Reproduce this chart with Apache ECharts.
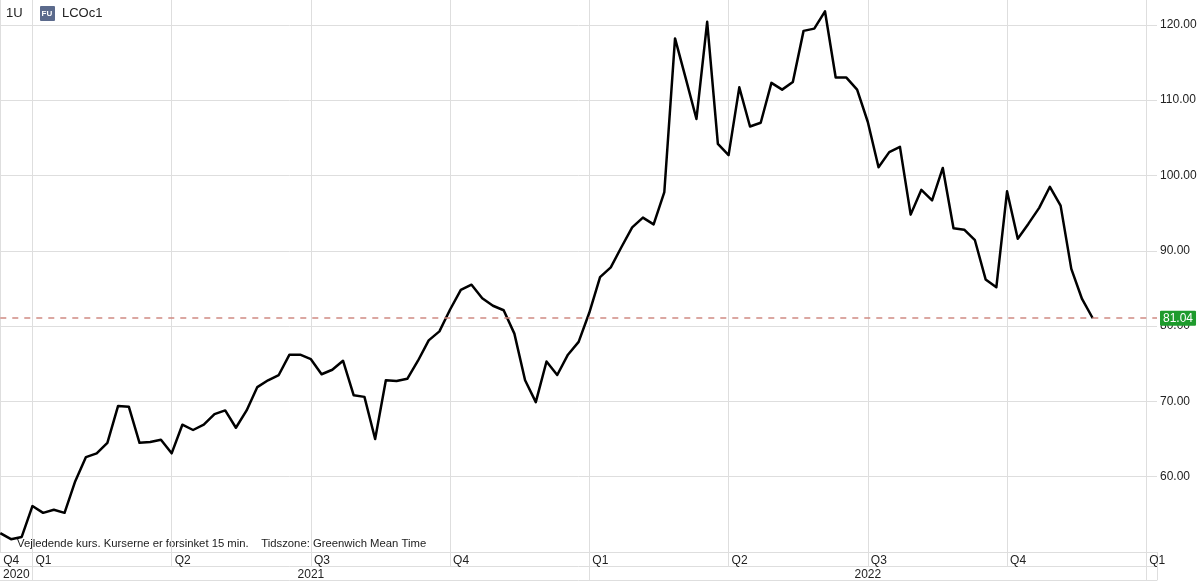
<!DOCTYPE html>
<html>
<head>
<meta charset="utf-8">
<style>
  html, body { margin: 0; padding: 0; background: #fff; }
  #chart { width: 1200px; height: 581px; }
</style>
<script src="https://cdn.jsdelivr.net/npm/echarts@6/dist/echarts.min.js"></script>
</head>
<body>
<div id="chart"></div>
<script>
// ---- data (weekly closes, LCOc1) ----
const startWeek = '2020-12-18';
const weekCount = 109; // categories on the axis (data + empty future weeks)
const prices = [
  52.5, 51.7, 52.0, 56.1, 55.2, 55.6, 55.2, 59.4, 62.6, 63.1,
  64.5, 69.4, 69.3, 64.5, 64.6, 64.9, 63.1, 66.9, 66.2, 66.9,
  68.3, 68.8, 66.5, 68.8, 71.9, 72.8, 73.5, 76.2, 76.2, 75.6,
  73.6, 74.2, 75.4, 70.8, 70.6, 65.0, 72.8, 72.7, 73.0, 75.4,
  78.1, 79.3, 82.2, 84.8, 85.5, 83.7, 82.7, 82.1, 79.0, 72.8,
  69.9, 75.3, 73.5, 76.2, 77.9, 81.8, 86.5, 87.8, 90.5, 93.1,
  94.4, 93.5, 97.8, 118.2, 112.9, 107.5, 120.4, 104.2, 102.7, 111.7,
  106.5, 107.0, 112.3, 111.4, 112.4, 119.2, 119.5, 121.8, 113.0, 113.0,
  111.4, 107.1, 101.1, 103.1, 103.8, 94.8, 98.1, 96.7, 101.0, 93.0,
  92.8, 91.4, 86.2, 85.15, 97.9, 91.6, 93.6, 95.7, 98.5, 96.0,
  87.6, 83.6, 81.04
];
const lastPrice = 81.04;
const quarterLabels = ['Q4', 'Q1', 'Q2', 'Q3', 'Q4', 'Q1', 'Q2', 'Q3', 'Q4', 'Q1'];
const quarterAt = [0, 3, 16, 29, 42, 55, 68, 81, 94, 107];
const yearLabels = ['2020', '2021', '2022'];
const yearBounds = [0, 3, 55, 107];
const yTickLabels = [60, 70, 80, 90, 100, 110, 120];
const yMin = 50, yMax = 123.3;

// ---- derived ----
const weeks = [];
{
  const d0 = new Date(startWeek + 'T00:00:00Z');
  for (let i = 0; i < weekCount; i++) {
    const d = new Date(d0.getTime() + i * 7 * 86400000);
    weeks.push(d.toISOString().slice(0, 10));
  }
}
const lastIdx = weekCount - 1;
const gridIdx = quarterAt.slice(1);
const qTickIdx = gridIdx.concat([lastIdx]);
const yearTicks = yearBounds.slice(1).concat([lastIdx]);
const yearCenters = yearLabels.map((_, i) => (yearBounds[i] + yearBounds[i + 1]) / 2);

const FONT = '"Liberation Sans", Arial, Helvetica, sans-serif';
const LINE = '#dedede';
const TEXT = '#222';
// horizontal grid colours: one per tick (50..120 and the top edge); the top edge stays invisible
const hLineColors = [LINE, LINE, LINE, LINE, LINE, LINE, LINE, LINE, 'rgba(0,0,0,0)'];

const chart = echarts.init(document.getElementById('chart'), null, { renderer: 'canvas' });
chart.setOption({
  animation: false,
  backgroundColor: '#fff',
  grid: { left: 0, right: 43, top: 0, bottom: 29, containLabel: false },
  xAxis: [
    {
      type: 'category',
      data: weeks,
      boundaryGap: false,
      position: 'bottom',
      axisLine: { show: true, lineStyle: { color: LINE, width: 1 } },
      axisTick: { show: true, interval: (i) => qTickIdx.includes(i), length: 14, lineStyle: { color: LINE } },
      axisLabel: {
        interval: (i) => quarterAt.includes(i),
        formatter: (v, i) => { const k = quarterAt.indexOf(i); return k >= 0 ? quarterLabels[k] : ''; },
        align: 'left', padding: [0, 0, 0, 3], margin: 3,
        color: TEXT, fontSize: 12, fontFamily: FONT
      },
      splitLine: { show: true, interval: (i) => gridIdx.includes(i), lineStyle: { color: LINE, width: 1 } }
    },
    {
      type: 'value', min: 0, max: lastIdx, position: 'bottom', offset: 14,
      axisLine: { show: true, lineStyle: { color: LINE, width: 1 } },
      axisTick: { show: true, customValues: yearTicks, length: 14, lineStyle: { color: LINE } },
      axisLabel: {
        customValues: yearCenters,
        formatter: (v) => { const k = yearCenters.indexOf(v); return k >= 0 ? yearLabels[k] : ''; },
        margin: 3, color: TEXT, fontSize: 12, fontFamily: FONT
      },
      splitLine: { show: false }
    },
    {
      type: 'value', min: 0, max: lastIdx, position: 'bottom', offset: 28,
      axisLine: { show: true, lineStyle: { color: LINE, width: 1 } },
      axisTick: { show: false }, axisLabel: { show: false }, splitLine: { show: false }
    }
  ],
  yAxis: {
    type: 'value', position: 'right', min: yMin, max: yMax, interval: 10,
    axisLine: { show: true, lineStyle: { color: LINE } },
    axisTick: { show: false },
    axisLabel: {
      showMinLabel: false, showMaxLabel: false,
      formatter: (v) => yTickLabels.includes(v) ? v.toFixed(2) : '',
      margin: 3, color: TEXT, fontSize: 12, fontFamily: FONT
    },
    splitLine: { show: true, lineStyle: { color: hLineColors, width: 1 } }
  },
  series: [{
    type: 'line',
    data: prices,
    xAxisIndex: 0,
    symbol: 'none',
    smooth: false,
    lineStyle: { color: '#000', width: 2.5, join: 'round' },
    markLine: {
      silent: true,
      symbol: 'none',
      data: [{ yAxis: lastPrice }],
      lineStyle: { color: '#cf8a82', type: [6, 6], width: 1.5 },
      label: {
        show: true, position: 'end', distance: 3,
        formatter: lastPrice.toFixed(2),
        backgroundColor: '#1e9b2d', color: '#fff',
        padding: [2, 3, 1, 3], borderRadius: 1,
        fontSize: 12, fontFamily: FONT
      }
    }
  }],
  graphic: [
    { type: 'text', left: 6, top: 7, style: { text: '1U', font: '13px ' + FONT, fill: TEXT } },
    { type: 'rect', left: 40, top: 6, shape: { width: 15, height: 15, r: 1 }, style: { fill: '#5b6a8c' } },
    { type: 'text', left: 41.5, top: 10, style: { text: 'FU', font: 'bold 8px ' + FONT, fill: '#fff' } },
    { type: 'text', left: 62, top: 7, style: { text: 'LCOc1', font: '13px ' + FONT, fill: TEXT } },
    { type: 'text', left: 17, top: 538, style: { text: 'Vejledende kurs. Kurserne er forsinket 15 min.    Tidszone: Greenwich Mean Time', font: '11.3px ' + FONT, fill: TEXT } }
  ]
});
</script>
</body>
</html>
